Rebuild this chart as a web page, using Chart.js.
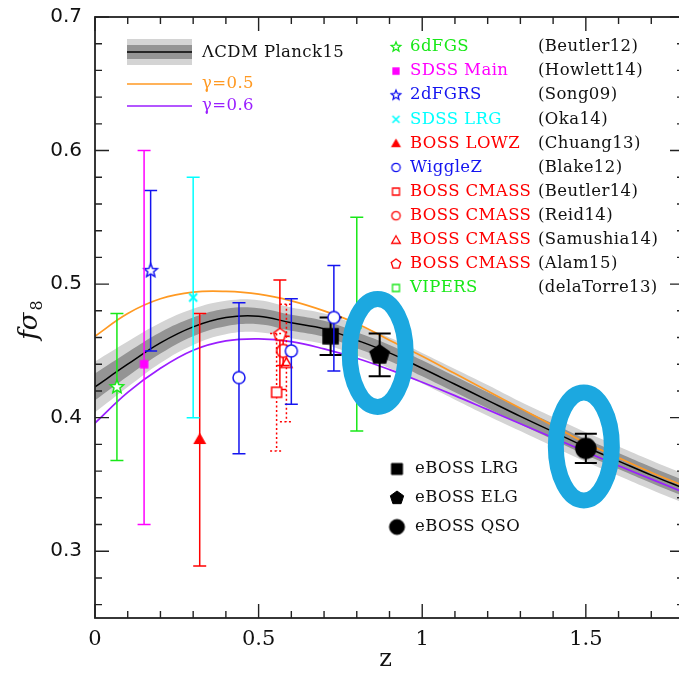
<!DOCTYPE html>
<html>
<head>
<meta charset="utf-8">
<title>f sigma8 vs z</title>
<script src="https://cdn.jsdelivr.net/npm/chart.js@4.4.1/dist/chart.umd.min.js"></script>
<style>
  html, body { margin: 0; padding: 0; overflow: hidden; background: #fff; }
  canvas { position: absolute; left: 0; top: 0; }
</style>
</head>
<body>
<canvas id="fs8Chart" width="690" height="677"></canvas>
<script>
// model curves, every 0.1 in z
const zGrid   = [0, 0.1, 0.2, 0.3, 0.4, 0.5, 0.6, 0.7, 0.8, 0.9, 1.0, 1.1, 1.2, 1.3, 1.4, 1.5, 1.6, 1.7, 1.8];
const lcdm    = [0.423, 0.440, 0.456, 0.468, 0.475, 0.476, 0.471, 0.4665, 0.458, 0.4485, 0.437, 0.425, 0.413, 0.401, 0.3895, 0.378, 0.3675, 0.357, 0.347];
const lcdm1s  = [0.010, 0.009, 0.008, 0.007, 0.0065, 0.006, 0.006, 0.006, 0.006, 0.006, 0.006, 0.006, 0.006, 0.006, 0.006, 0.006, 0.006, 0.006, 0.006];
const lcdm2s  = [0.019, 0.017, 0.015, 0.0135, 0.0125, 0.012, 0.0115, 0.0115, 0.0115, 0.0115, 0.0115, 0.0115, 0.0115, 0.011, 0.011, 0.011, 0.011, 0.011, 0.011];
const gamma05 = [0.461, 0.478, 0.489, 0.494, 0.4945, 0.4925, 0.4875, 0.480, 0.4705, 0.458, 0.446, 0.433, 0.420, 0.407, 0.394, 0.381, 0.370, 0.359, 0.349];
const gamma06 = [0.396, 0.419, 0.437, 0.4505, 0.4575, 0.459, 0.457, 0.4515, 0.4445, 0.436, 0.4265, 0.4165, 0.406, 0.3955, 0.385, 0.3745, 0.364, 0.354, 0.344];

// measurements
const pointKey = ['6df', 'main', '2df', 'lrg', 'lowz', 'wz', 'wz', 'wz', 'cmB', 'cmA', 'cmR', 'cmS', 'vip', 'eLRG', 'eELG', 'eQSO'];
const pointZ   = [0.067, 0.15, 0.17, 0.30, 0.32, 0.44, 0.60, 0.73, 0.555, 0.565, 0.575, 0.585, 0.80, 0.72, 0.87, 1.50];
const pointF   = [0.423, 0.44, 0.51, 0.49, 0.384, 0.43, 0.45, 0.475, 0.419, 0.462, 0.450, 0.441, 0.47, 0.461, 0.447, 0.377];
const pointLo  = [0.368, 0.32, 0.45, 0.40, 0.289, 0.373, 0.41, 0.435, 0.375, 0.421, 0.439, 0.397, 0.39, 0.447, 0.431, 0.366];
const pointHi  = [0.478, 0.60, 0.57, 0.58, 0.478, 0.486, 0.489, 0.514, 0.463, 0.503, 0.461, 0.485, 0.55, 0.475, 0.463, 0.388];
const circled  = ['eELG', 'eQSO'];

// legend
const legendKeys  = ['6df', 'main', '2df', 'lrg', 'lowz', 'wz', 'cmB', 'cmR', 'cmS', 'cmA', 'vip'];
const legendNames = ['6dFGS', 'SDSS Main', '2dFGRS', 'SDSS LRG', 'BOSS LOWZ', 'WiggleZ', 'BOSS CMASS', 'BOSS CMASS', 'BOSS CMASS', 'BOSS CMASS', 'VIPERS'];
const legendRefs  = ['(Beutler12)', '(Howlett14)', '(Song09)', '(Oka14)', '(Chuang13)', '(Blake12)', '(Beutler14)', '(Reid14)', '(Samushia14)', '(Alam15)', '(delaTorre13)'];
const eBossKeys   = ['eLRG', 'eELG', 'eQSO'];
const eBossNames  = ['eBOSS LRG', 'eBOSS ELG', 'eBOSS QSO'];

const xTicks = [0, 0.5, 1, 1.5];
const xTickLabels = ['0', '0.5', '1', '1.5'];
const yTicks = [0.3, 0.4, 0.5, 0.6, 0.7];
const yTickLabels = ['0.3', '0.4', '0.5', '0.6', '0.7'];

const GREEN = '#18e818', MAGENTA = '#ff00ff', BLUE = '#1414f0', CYAN = '#00ffff', RED = '#ff0000';
const ORANGE = '#ff9922', PURPLE = '#9a1eff', RING = '#1ca8e0';

const markStyle = {
  '6df':  { shape: 'star',   color: GREEN,   fill: '#fff',  r: 7,   rl: 5 },
  'main': { shape: 'square', color: MAGENTA, fill: MAGENTA, r: 3.5, rl: 3 },
  '2df':  { shape: 'star',   color: BLUE,    fill: '#fff',  r: 7,   rl: 5 },
  'lrg':  { shape: 'cross',  color: CYAN,    fill: null,    r: 4,   rl: 3.5 },
  'lowz': { shape: 'tri',    color: RED,     fill: RED,     r: 6,   rl: 4.5 },
  'wz':   { shape: 'circle', color: BLUE,    fill: '#fff',  r: 6,   rl: 4.2 },
  'cmB':  { shape: 'square', color: RED,     fill: '#fff',  r: 5,   rl: 3.5 },
  'cmA':  { shape: 'pent',   color: RED,     fill: '#fff',  r: 6.5, rl: 5 },
  'cmR':  { shape: 'circle', color: RED,     fill: '#fff',  r: 6.5, rl: 4.2 },
  'cmS':  { shape: 'tri',    color: RED,     fill: '#fff',  r: 6.5, rl: 5 },
  'vip':  { shape: 'square', color: GREEN,   fill: '#fff',  r: 4,   rl: 3.5 },
  'eLRG': { shape: 'square', color: '#000',  fill: '#000',  r: 7.5, rl: 5.5 },
  'eELG': { shape: 'pent',   color: '#000',  fill: '#000',  r: 10,  rl: 7 },
  'eQSO': { shape: 'circle', color: '#000',  fill: '#000',  r: 10,  rl: 7.5 }
};
const dottedKeys = ['cmB', 'cmS'];

function marker(shape, r, stroke, fill, lw) {
  const pad = Math.ceil(lw) + 1;
  const s = Math.ceil(2 * r + 2 * pad);
  const c = document.createElement('canvas');
  c.width = s; c.height = s;
  const g = c.getContext('2d');
  const m = s / 2;
  g.beginPath();
  if (shape === 'circle') {
    g.arc(m, m, r, 0, 2 * Math.PI);
  } else if (shape === 'square') {
    g.rect(m - r, m - r, 2 * r, 2 * r);
  } else if (shape === 'cross') {
    g.moveTo(m - r, m - r); g.lineTo(m + r, m + r);
    g.moveTo(m + r, m - r); g.lineTo(m - r, m + r);
  } else {
    const n = shape === 'tri' ? 3 : 5;
    const pts = shape === 'star' ? 10 : n;
    for (let k = 0; k < pts; k++) {
      const a = -Math.PI / 2 + k * 2 * Math.PI / pts;
      const rr = (shape === 'star' && k % 2) ? r * 0.45 : r;
      const px = m + rr * Math.cos(a), py = m + rr * Math.sin(a) + (shape === 'tri' ? r * 0.2 : 0);
      if (k === 0) g.moveTo(px, py); else g.lineTo(px, py);
    }
    g.closePath();
  }
  if (fill && shape !== 'cross') { g.fillStyle = fill; g.fill(); }
  g.strokeStyle = stroke; g.lineWidth = lw; g.stroke();
  return c;
}

function curve(vals, extra) {
  return Object.assign({
    data: zGrid.map((z, i) => ({ x: z, y: vals[i] })),
    pointRadius: 0, tension: 0.4, fill: false, borderWidth: 0
  }, extra);
}

const datasets = [];
pointKey.forEach((k, i) => {
  const st = markStyle[k];
  const big = k[0] === 'e';
  datasets.push({
    label: k,
    data: [{ x: pointZ[i], y: pointF[i] }],
    showLine: false,
    pointStyle: marker(st.shape, st.r, st.color, st.fill, st.shape === 'cross' ? 2 : 1.5),
    pointRadius: 5,
    errLo: [pointLo[i]], errHi: [pointHi[i]],
    errColor: st.color, errWidth: big ? 2 : 1.5, cap: big ? 11 : 6.5,
    dotted: dottedKeys.includes(k),
    order: 0
  });
});
datasets.push(curve(gamma06, { borderColor: PURPLE, borderWidth: 1.7, order: 5 }));
datasets.push(curve(gamma05, { borderColor: ORANGE, borderWidth: 1.7, order: 5 }));
datasets.push(curve(lcdm, { borderColor: '#000', borderWidth: 1.5, order: 8 }));
datasets.push(curve(lcdm.map((v, i) => v + lcdm1s[i]), { fill: '+1', backgroundColor: '#949494', order: 10 }));
datasets.push(curve(lcdm.map((v, i) => v - lcdm1s[i]), { order: 11 }));
datasets.push(curve(lcdm.map((v, i) => v + lcdm2s[i]), { fill: '+1', backgroundColor: '#d4d4d4', order: 20 }));
datasets.push(curve(lcdm.map((v, i) => v - lcdm2s[i]), { order: 21 }));

const errorBars = {
  id: 'errorBars',
  beforeDatasetDraw(chart, args) {
    const ds = chart.data.datasets[args.index];
    if (!ds.errLo) return;
    const { ctx, scales: { x, y } } = chart;
    ds.data.forEach((p, i) => {
      const px = x.getPixelForValue(p.x);
      const top = y.getPixelForValue(ds.errHi[i]);
      const bot = y.getPixelForValue(ds.errLo[i]);
      ctx.save();
      ctx.strokeStyle = ds.errColor;
      ctx.lineWidth = ds.errWidth;
      if (ds.dotted) ctx.setLineDash([2, 2.5]);
      ctx.beginPath();
      ctx.moveTo(px, top); ctx.lineTo(px, bot);
      ctx.moveTo(px - ds.cap, top); ctx.lineTo(px + ds.cap, top);
      ctx.moveTo(px - ds.cap, bot); ctx.lineTo(px + ds.cap, bot);
      ctx.stroke();
      ctx.restore();
    });
  }
};

const rings = {
  id: 'rings',
  afterDatasetsDraw(chart) {
    const { ctx, scales: { x, y } } = chart;
    ctx.save();
    ctx.strokeStyle = RING;
    ctx.lineWidth = 16;
    circled.forEach(k => {
      const i = pointKey.indexOf(k);
      const cx = x.getPixelForValue(pointZ[i]) - 2;
      const cy = y.getPixelForValue(pointF[i]) - 2;
      ctx.beginPath();
      ctx.ellipse(cx, cy, 28, 54, 0, 0, 2 * Math.PI);
      ctx.stroke();
    });
    ctx.restore();
  }
};

const frame = {
  id: 'frame',
  afterDraw(chart) {
    const { ctx, chartArea: a, scales: { x, y } } = chart;
    ctx.save();
    ctx.strokeStyle = '#222';
    ctx.lineWidth = 1.4;
    ctx.beginPath();
    for (let k = 0; k <= 18; k++) {
      const px = x.getPixelForValue(k / 10);
      const len = k % 5 === 0 ? 14 : 7;
      ctx.moveTo(px, a.bottom); ctx.lineTo(px, a.bottom - len);
      ctx.moveTo(px, a.top); ctx.lineTo(px, a.top + len);
    }
    for (let k = 13; k <= 35; k++) {
      const py = y.getPixelForValue(k * 0.02);
      const len = k % 5 === 0 ? 14 : 7;
      ctx.moveTo(a.left, py); ctx.lineTo(a.left + len, py);
      ctx.moveTo(a.right, py); ctx.lineTo(a.right - len, py);
    }
    ctx.stroke();
    ctx.lineWidth = 1.8;
    ctx.strokeRect(a.left, a.top, a.right - a.left, a.bottom - a.top);

    // axis titles
    ctx.fillStyle = '#111';
    ctx.textAlign = 'center';
    ctx.textBaseline = 'middle';
    ctx.font = '24px "DejaVu Serif"';
    ctx.fillText('z', (a.left + a.right) / 2 - 4, 660);
    ctx.translate(30, 320);
    ctx.rotate(-Math.PI / 2);
    ctx.textAlign = 'left';
    ctx.font = 'italic 26px "DejaVu Serif"';
    const w1 = ctx.measureText('fσ').width;
    ctx.font = '16px "DejaVu Serif"';
    const w2 = ctx.measureText('8').width;
    const x0 = -(w1 + w2 + 2) / 2;
    ctx.font = 'italic 26px "DejaVu Serif"';
    ctx.fillText('fσ', x0, 0);
    ctx.font = '16px "DejaVu Serif"';
    ctx.fillText('8', x0 + w1 + 2, 8);
    ctx.restore();

    // legend, top left: model curves
    ctx.save();
    ctx.fillStyle = '#d4d4d4'; ctx.fillRect(127, 39, 65, 26);
    ctx.fillStyle = '#949494'; ctx.fillRect(127, 45, 65, 14);
    ctx.lineWidth = 1.6;
    ctx.strokeStyle = '#000'; ctx.beginPath(); ctx.moveTo(127, 52); ctx.lineTo(192, 52); ctx.stroke();
    ctx.strokeStyle = ORANGE; ctx.beginPath(); ctx.moveTo(127, 84); ctx.lineTo(192, 84); ctx.stroke();
    ctx.strokeStyle = PURPLE; ctx.beginPath(); ctx.moveTo(127, 106); ctx.lineTo(192, 106); ctx.stroke();
    ctx.font = '16.5px "DejaVu Serif"';
    ctx.letterSpacing = '0.4px';
    ctx.textBaseline = 'middle';
    ctx.fillStyle = '#111'; ctx.fillText('ΛCDM Planck15', 202, 53);
    ctx.fillStyle = ORANGE; ctx.fillText('γ=0.5', 202, 84);
    ctx.fillStyle = PURPLE; ctx.fillText('γ=0.6', 202, 106);

    // legend: surveys
    legendKeys.forEach((k, i) => {
      const st = markStyle[k];
      const ry = 47 + 24.1 * i;
      const m = marker(st.shape, st.rl, st.color, st.fill, st.shape === 'cross' ? 1.6 : 1.3);
      ctx.drawImage(m, 396 - m.width / 2, ry - m.height / 2);
      ctx.fillStyle = st.color;
      ctx.fillText(legendNames[i], 410, ry);
      ctx.fillStyle = '#111';
      ctx.fillText(legendRefs[i], 538, ry);
    });

    // legend: eBOSS
    eBossKeys.forEach((k, i) => {
      const st = markStyle[k];
      const ry = 469 + 29 * i;
      const m = marker(st.shape, st.rl, st.color, st.fill, 1);
      ctx.drawImage(m, 397 - m.width / 2, ry - m.height / 2);
      ctx.fillStyle = '#111';
      ctx.fillText(eBossNames[i], 415, ry);
    });
    ctx.restore();
  }
};

new Chart(document.getElementById('fs8Chart'), {
  type: 'line',
  data: { datasets: datasets },
  options: {
    responsive: false,
    animation: false,
    devicePixelRatio: 1,
    events: [],
    layout: { padding: { top: 17, right: 6, left: 0, bottom: 0 } },
    plugins: { legend: { display: false }, tooltip: { enabled: false } },
    scales: {
      x: {
        type: 'linear', min: 0, max: 1.8,
        grid: { display: false, drawTicks: false },
        border: { display: false },
        afterBuildTicks: s => { s.ticks = xTicks.map(v => ({ value: v })); },
        afterFit: s => { s.height = 59; s.paddingLeft = 0; s.paddingRight = 0; },
        ticks: {
          callback: (v, i) => xTickLabels[i],
          font: { family: 'DejaVu Serif', size: 21 },
          color: '#111', padding: 9, maxRotation: 0, autoSkip: false
        }
      },
      y: {
        type: 'linear', min: 0.25, max: 0.7,
        grid: { display: false, drawTicks: false },
        border: { display: false },
        afterBuildTicks: s => { s.ticks = yTicks.map(v => ({ value: v })); },
        afterFit: s => { s.width = 95; s.paddingTop = 0; s.paddingBottom = 0; },
        ticks: {
          callback: (v, i) => yTickLabels[i],
          font: { family: 'DejaVu Sans', size: 20 },
          color: '#111', padding: 13, autoSkip: false
        }
      }
    }
  },
  plugins: [errorBars, rings, frame]
});
</script>
</body>
</html>
